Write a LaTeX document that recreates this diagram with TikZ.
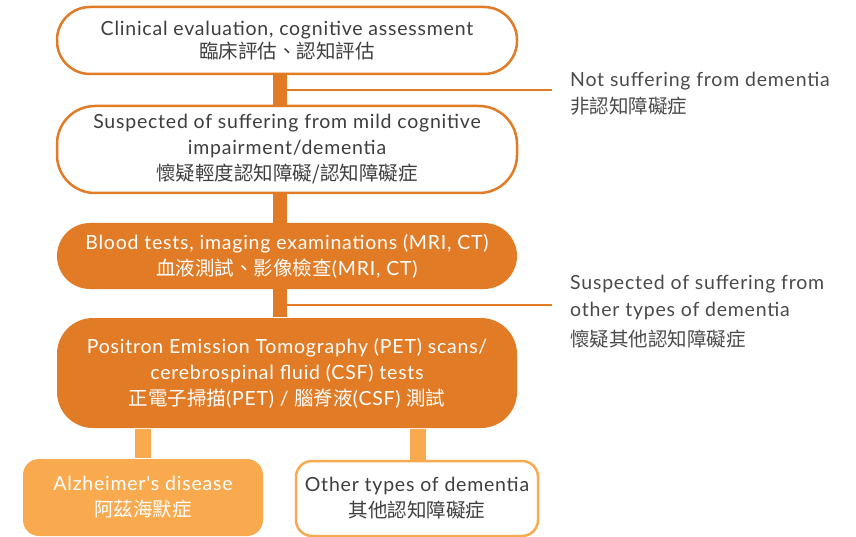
\documentclass[tikz,border=0pt]{standalone}
\usepackage{fontspec}
\setmainfont[LetterSpace=4.0, Ligatures=TeXOff]{Lato}
\newfontfamily\cjk{Noto Sans CJK TC}
\usetikzlibrary{backgrounds}
\definecolor{dorange}{HTML}{E17B26}
\definecolor{lorange}{HTML}{F9AA4F}
\definecolor{dgray}{HTML}{3E3E3E}
\definecolor{sgray}{HTML}{4A4A4A}
\tikzset{
  box/.style={rectangle, inner sep=0pt, align=center, line width=2.5pt,
    font=\fontsize{19.5}{26}\selectfont},
  whitebox/.style={box, draw=dorange, fill=white, text=dgray},
  orangebox/.style={box, fill=dorange, text=white},
  lightbox/.style={box, fill=lorange, text=white},
  lightwhitebox/.style={box, draw=lorange, fill=white, text=dgray},
  mainbar/.style={draw=dorange, line width=14pt},
  subbar/.style={draw=lorange, line width=16pt},
  sideline/.style={draw=dorange, line width=2.5pt},
  sidetext/.style={inner sep=0pt, align=left, text=sgray, anchor=west,
    font=\fontsize{19.5}{27}\selectfont},
}
\begin{document}
\begin{tikzpicture}[x=1pt,y=-1pt]
\useasboundingbox (0,0) rectangle (856,537);
% nodes
\node[whitebox, minimum width=460pt, minimum height=67pt, rounded corners=33pt] (b1) at (287,40.5)
  {\raisebox{-2pt}{Clinical evaluation, cognitive assessment}\\[-1pt] {\cjk 臨床評估、認知評估}};
\node[whitebox, minimum width=460pt, minimum height=87pt, rounded corners=38pt] (b2) at (287,149.5)
  {Suspected of suffering from mild cognitive\\ impairment/dementia\\ {\cjk 懷疑輕度認知障礙/認知障礙症}};
\node[orangebox, minimum width=460pt, minimum height=66pt, rounded corners=33pt] (b3) at (287,256)
  {Blood tests, imaging examinations (MRI, CT)\\ {\cjk 血液測試、影像檢查}(MRI, CT)};
\node[orangebox, minimum width=460pt, minimum height=110pt, rounded corners=36pt] (b4) at (287,373)
  {Positron Emission Tomography (PET) scans/\\ cerebrospinal fluid (CSF) tests\\ {\cjk 正電子掃描}(PET) / {\cjk 腦脊液}(CSF) {\cjk 測試}};
\node[lightbox, minimum width=240pt, minimum height=77pt, rounded corners=16pt] (b5) at (143,497.5)
  {Alzheimer's disease\\ {\cjk 阿茲海默症}};
\node[lightwhitebox, minimum width=242pt, minimum height=75pt, rounded corners=16pt] (b6) at (417,498.5)
  {Other types of dementia\\ {\cjk 其他認知障礙症}};
\node[sidetext] (s1) at (570,94) {Not suffering from dementia\\ {\cjk 非認知障礙症}};
\node[sidetext] (s2) at (570,312) {Suspected of suffering from\\ other types of dementia\\[3pt] {\cjk 懷疑其他認知障礙症}};
\coordinate (e1) at (552,90);
\coordinate (e2) at (552,305);
% connectors (behind boxes)
\begin{scope}[on background layer]
  \draw[mainbar] ([xshift=-7pt]b1.south) -- ([xshift=-7pt]b4.north);
  \draw[sideline] (b1.south |- e1) -- (e1);
  \draw[sideline] (b3.south |- e2) -- (e2);
  \draw[subbar] (b5.north |- b4.south) -- (b5.north);
  \draw[subbar] ([xshift=1pt]b6.north |- b4.south) -- ([xshift=1pt]b6.north);
\end{scope}
\end{tikzpicture}
\end{document}
